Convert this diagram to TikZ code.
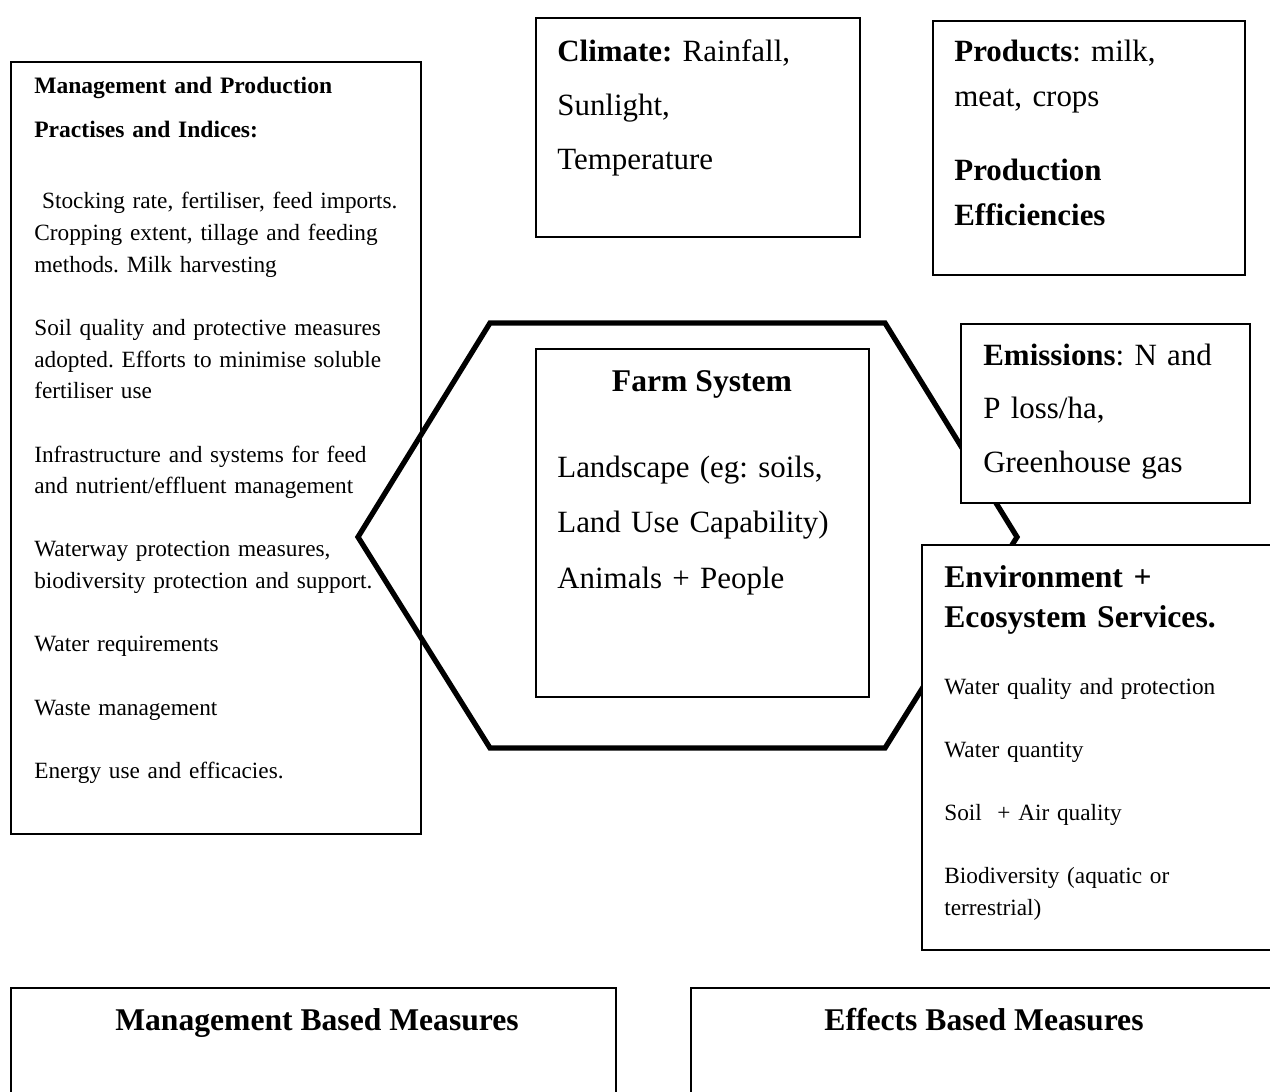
\documentclass[tikz,border=0pt]{standalone}
\usepackage{fontspec}
\setmainfont{Liberation Serif}
\frenchspacing
\usetikzlibrary{positioning,fit}

\begin{document}
\begin{tikzpicture}[x=0.02cm, y=-0.02cm,
    panel/.style={
        draw=black,
        line width=0.9pt,
        inner sep=0pt,
        fill=white
    },
    smalltxt/.style={font=\fontsize{13.25pt}{18pt}\selectfont},
    bigtxt/.style={font=\fontsize{17.6pt}{30.5pt}\selectfont},
    titletxt/.style={font=\fontsize{18pt}{20pt}\selectfont\bfseries, anchor=base, inner sep=0pt},
    para/.style={anchor=base west, inner sep=0pt, align=left, text width=#1},
    hexline/.style={line width=3pt, line join=miter}]

    \useasboundingbox (0,0) rectangle (1270,1091);

    % Practices (left)
    \node[panel, fill=none, fit={(11,62) (421,834)}] (practices) {};
    \node[para=7.6cm, font=\fontsize{13.4pt}{25pt}\selectfont\bfseries] (practices-head) at (34,94)
        {Management and Production\\ Practises and Indices:};
    \node[smalltxt, para=7.7cm] (practices-list) at (34,209) {
        \ Stocking rate, fertiliser, feed imports.\\
        Cropping extent, tillage and feeding\\
        methods. Milk harvesting\\[18pt]
        Soil quality and protective measures\\
        adopted. Efforts to minimise soluble\\
        fertiliser use\\[18pt]
        Infrastructure and systems for feed\\
        and nutrient/effluent management\\[18pt]
        Waterway protection measures,\\
        biodiversity protection and support.\\[18pt]
        Water requirements\\[18pt]
        Waste management\\[18pt]
        Energy use and efficacies.};

    % Farm system hexagon
    \coordinate (hex-tl) at (490,323);
    \coordinate (hex-tr) at (885,323);
    \coordinate (hex-r) at (1017,537);
    \coordinate (hex-br) at (885,748);
    \coordinate (hex-bl) at (490,748);
    \coordinate (hex-l) at (358,537);
    \draw[hexline] (hex-tl) -- (hex-tr) -- (hex-r) -- (hex-br) -- (hex-bl) -- (hex-l) -- cycle;

    \node[panel, fit={(536,349) (869,697)}] (farm) {};
    \node[titletxt] (farm-title) at (702,391) {Farm System};
    \node[para=6.2cm, font=\fontsize{17.6pt}{31.6pt}\selectfont] (farm-text) at (557,477)
        {Landscape (eg: soils,\\ Land Use Capability)\\ Animals + People};

    % Inputs and outputs
    \node[panel, fit={(536,18) (860,237)}] (climate) {};
    \node[bigtxt, para=6cm] (climate-text) at (557,62)
        {\textbf{Climate:} Rainfall,\\ Sunlight,\\ Temperature};

    \node[panel, fit={(933,21) (1245,275)}] (products) {};
    \node[para=5.8cm, font=\fontsize{17.6pt}{25.6pt}\selectfont] (products-text) at (954,62)
        {\textbf{Products}: milk,\\ meat, crops\\[16pt] \textbf{Production}\\ \textbf{Efficiencies}};

    \node[panel, fit={(961,324) (1250,503)}] (emissions) {};
    \node[bigtxt, para=5.5cm] (emissions-text) at (983,365)
        {\textbf{Emissions}: N and\\ P loss/ha,\\ Greenhouse gas};

    \node[panel, fit={(922,545) (1280,950)}] (environment) {};
    \node[para=6.5cm, font=\fontsize{18pt}{23.3pt}\selectfont\bfseries] (environment-head) at (944,587)
        {Environment +\\ Ecosystem Services.};
    \node[smalltxt, para=6.5cm] (environment-list) at (944,694)
        {Water quality and protection\\[18pt] Water quantity\\[18pt] Soil\ \ + Air quality\\[18pt]
        Biodiversity (aquatic or\\ terrestrial)};

    % Measures
    \node[panel, fit={(11,988) (616,1100)}] (mgmt-measures) {};
    \node[titletxt] (mgmt-title) at (317,1030) {Management Based Measures};
    \node[panel, fit={(691,988) (1277,1100)}] (effects-measures) {};
    \node[titletxt] (effects-title) at (984,1030) {Effects Based Measures};
\end{tikzpicture}
\end{document}
